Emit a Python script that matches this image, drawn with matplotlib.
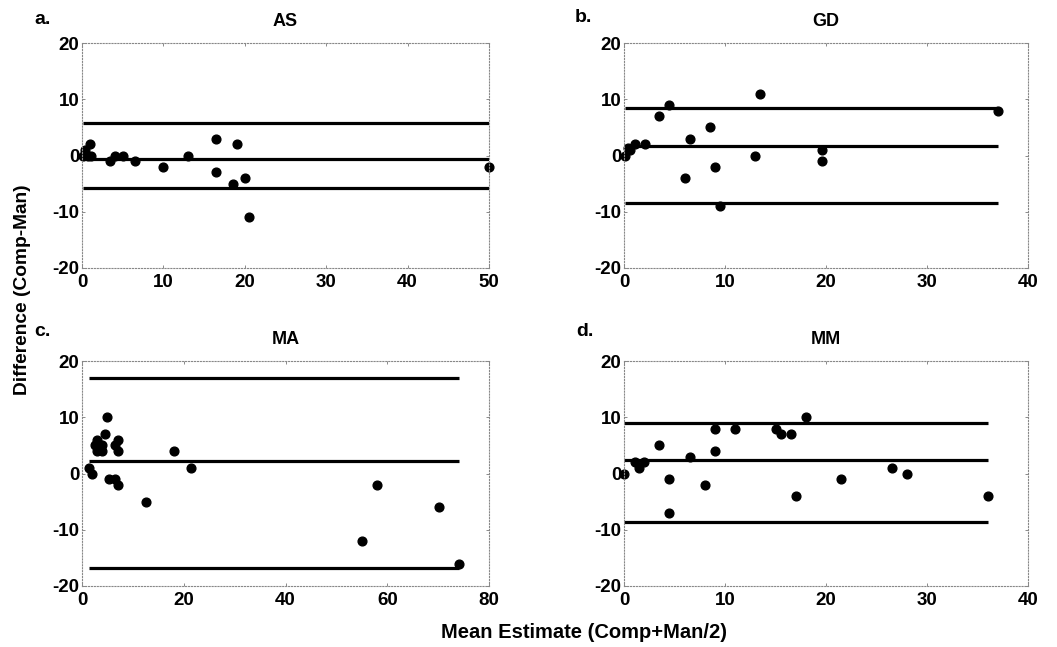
import matplotlib
matplotlib.use("Agg")
import matplotlib.pyplot as plt
import numpy as np

plt.rcParams['font.family'] = ['Liberation Sans', 'DejaVu Sans']
plt.rcParams['font.weight'] = 'bold'
plt.rcParams['axes.unicode_minus'] = False

# AS
as_x = [0.1, 0.4, 0.7, 1.0, 1.1, 3.5, 4.0, 5.0, 6.5, 10.0, 13.0, 16.5, 16.5, 18.5, 19.0, 20.0, 20.5, 50.0]
as_y = [0, 1, 0, 2, 0, -1, 0, 0, -1, -2, 0, 3, -3, -5, 2, -4, -11, -2]
as_lines = [5.8, -0.7, -5.7]

# GD
gd_x = [0.05, 0.4, 0.55, 1.05, 2.05, 3.5, 4.5, 6.0, 6.5, 8.5, 9.05, 9.5, 13.0, 13.5, 19.6, 19.6, 37.0]
gd_y = [0, 1.3, 1, 2, 2, 7, 9, -4, 3, 5, -2, -9, 0, 11, 1, -1, 8]
gd_lines = [8.4, 1.75, -8.4]

# MA
ma_x = [1.3, 2.0, 2.5, 3.0, 3.0, 3.5, 4.0, 4.0, 4.5, 5.0, 5.4, 6.4, 6.5, 7.0, 7.0, 7.0,
        12.5, 18.0, 21.5, 55.0, 58.0, 70.2, 74.1]
ma_y = [1, 0, 5, 6, 4, 5, 4, 5, 7, 10, -1, -1, 5, 6, 4, -2,
        -5, 4, 1, -12, -2, -6, -16]
ma_lines = [17.0, 2.2, -16.8]

# MM
mm_x = [0, 1.05, 1.45, 1.95, 3.5, 4.5, 4.5, 6.5, 8.0, 9.0, 9.0, 11.0, 15.0, 15.5, 16.5,
        17.0, 18.0, 21.5, 26.5, 28.0, 36.0]
mm_y = [0, 2, 1, 2, 5, -1, -7, 3, -2, 8, 4, 8, 8, 7, 7, -4, 10, -1, 1, 0, -4]
mm_lines = [8.9, 2.35, -8.6]

panels = [
    ("a.", "AS", as_x, as_y, as_lines, 50, [0, 10, 20, 30, 40, 50]),
    ("b.", "GD", gd_x, gd_y, gd_lines, 40, [0, 10, 20, 30, 40]),
    ("c.", "MA", ma_x, ma_y, ma_lines, 80, [0, 20, 40, 60, 80]),
    ("d.", "MM", mm_x, mm_y, mm_lines, 40, [0, 10, 20, 30, 40]),
]

W, H = 1057, 647
fig = plt.figure(figsize=(W / 100, H / 100), dpi=100)

# axes boxes in pixels (left, top, right, bottom) and panel letter spots
boxes = [(82, 43, 489, 268), (624, 43, 1028, 268), (82, 361, 489, 586), (624, 361, 1028, 586)]
letter_pos = [(34, 19), (575, 18), (34, 332), (576, 331)]

for (lab, title, x, y, lines, xmax, xt), (l, t, r, b), (lx, ly) in zip(panels, boxes, letter_pos):
    ax = fig.add_axes([l / W, 1 - b / H, (r - l) / W, (b - t) / H])
    xs = [min(x), max(x)]
    for v in lines:
        ax.plot(xs, [v, v], color='black', lw=2.3, solid_capstyle='butt')
    ax.plot(x, y, 'o', color='black', ms=6.3, clip_on=False)
    ax.set_xlim(0, xmax)
    ax.set_ylim(-20, 20)
    ax.set_xticks(xt)
    ax.set_yticks([-20, -10, 0, 10, 20])
    ax.tick_params(direction='in', length=2.5, width=0.6, color='#777777',
                   labelsize=13.5, pad=2, top=True, right=True)
    ax.tick_params(axis='x', pad=4)
    for lbl in ax.get_xticklabels() + ax.get_yticklabels():
        lbl.set_fontweight('bold')
    for s in ax.spines.values():
        s.set_linestyle(':')
        s.set_color('#888888')
        s.set_linewidth(0.8)
    ax.set_title(title, fontsize=13, fontweight='bold', pad=12)
    fig.text(lx / W, 1 - ly / H, lab, fontsize=14, fontweight='bold',
             ha='left', va='center')

fig.text(23 / W, 1 - 290 / H, "Difference (Comp-Man)", rotation=90, fontsize=13.8,
         fontweight='bold', ha='center', va='center')
fig.text(584 / W, 1 - 633 / H, "Mean Estimate (Comp+Man/2)", fontsize=14.5,
         fontweight='bold', ha='center', va='center')

fig.savefig("out.png", dpi=100)
